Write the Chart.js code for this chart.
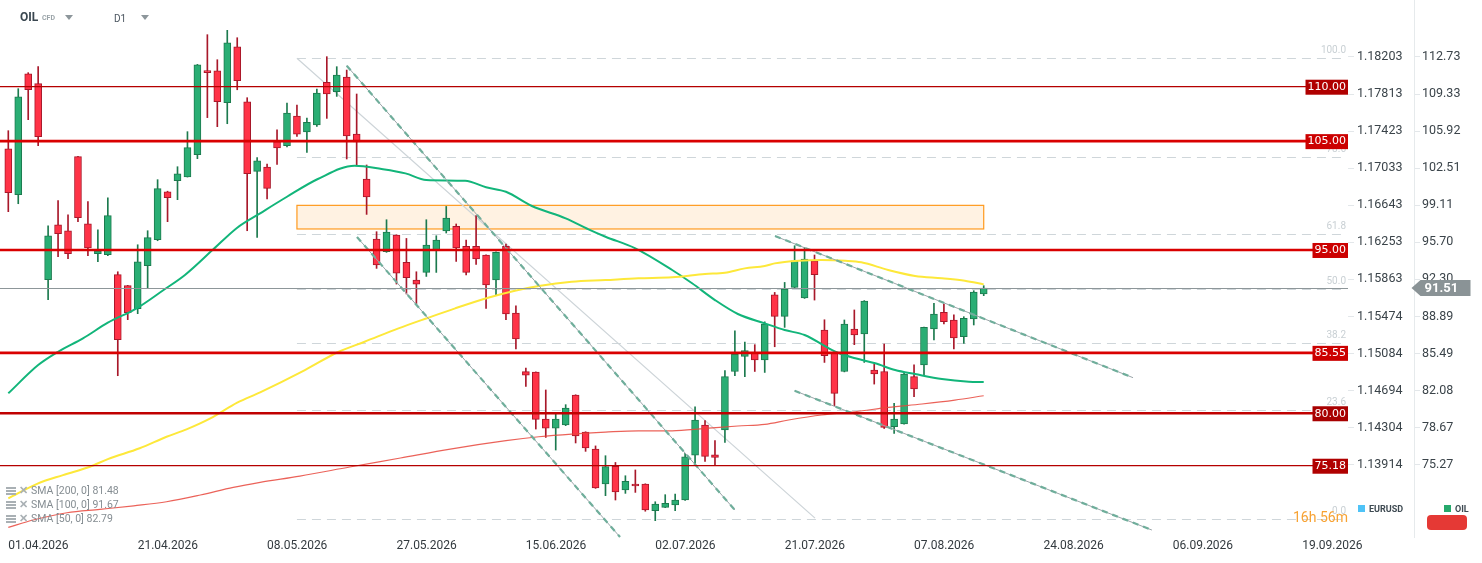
<!DOCTYPE html>
<html>
<head>
<meta charset="utf-8">
<title>OIL D1</title>
<script src="https://cdn.jsdelivr.net/npm/chart.js@4.4.1/dist/chart.umd.min.js"></script>
<style>
  body { margin: 0; background: #fff; font-family: Roboto, "Open Sans", sans-serif; }
  #wrap { position: relative; width: 1482px; height: 563px; }
  .abs { position: absolute; white-space: nowrap; }
  .tri { position: absolute; width: 0; height: 0; border-left: 4px solid transparent;
         border-right: 4px solid transparent; border-top: 5px solid #8d969b; }
  .sma { position: absolute; left: 6px; font-size: 10.5px; color: #858d92; }
  .sma i { display: inline-block; width: 10px; height: 8px; margin-right: 3px; vertical-align: -1px;
           background: repeating-linear-gradient(#a9b0b4 0 2px, #fff 2px 3px); }
  .sma b { font-weight: bold; color: #a9b0b4; margin-right: 3px; }
  .leg { position: absolute; font-size: 9px; font-weight: bold; color: #3e4a52; }
  .leg span { display: inline-block; width: 7px; height: 7px; margin-right: 4px; }
</style>
</head>
<body>
<div id="wrap">
  <canvas id="oilChart"></canvas>

  <div class="abs" style="left:20px;top:10px;font-size:12px;font-weight:bold;color:#3a4750;">OIL</div>
  <div class="abs" style="left:42px;top:14px;font-size:7px;font-weight:bold;color:#9aa3a8;">CFD</div>
  <div class="tri" style="left:65px;top:15px;"></div>
  <div class="abs" style="left:114px;top:13px;font-size:10px;color:#4b5660;">D1</div>
  <div class="tri" style="left:141px;top:15px;"></div>

  <div class="sma" style="top:484px;"><i></i><b>✕</b>SMA [200, 0] 81.48</div>
  <div class="sma" style="top:498px;"><i></i><b>✕</b>SMA [100, 0] 91.67</div>
  <div class="sma" style="top:512px;"><i></i><b>✕</b>SMA [50, 0] 82.79</div>

  <div class="abs" style="left:1293px;top:509px;font-size:14px;color:#f7a233;">16h 56m</div>
  <div class="leg" style="left:1358px;top:504px;"><span style="background:#4fc3f7"></span>EURUSD</div>
  <div class="leg" style="left:1444px;top:504px;"><span style="background:#26a96c"></span>OIL</div>
  <div class="abs" style="left:1427px;top:515px;width:40px;height:15px;background:#e53935;border-radius:4px;"></div>
</div>

<script>
// ---- data (one value per session, index 0 = 01.04.2026) ----
const opens  = [104.30,100.08,111.19,110.28,92.27,97.32,96.77,103.57,97.41,94.66,
                94.57,92.73,91.72,89.61,93.56,95.95,100.35,101.36,101.72,103.75,
                111.47,111.47,108.53,113.67,108.62,102.22,102.62,104.95,104.58,107.31,
                105.84,106.48,110.40,109.54,110.89,105.65,101.52,96.01,94.84,96.38,
                93.86,92.24,92.94,95.03,96.74,97.17,95.33,95.33,94.54,92.24,
                95.33,89.21,83.82,83.79,79.47,78.64,78.92,81.68,78.28,76.72,
                73.50,75.12,72.95,73.50,73.50,71.05,71.35,71.57,72.03,76.16,
                78.92,76.19,78.46,83.84,85.22,85.50,84.89,90.89,88.90,91.56,
                90.59,94.01,87.65,85.50,83.84,87.74,87.28,83.97,83.84,78.76,
                79.01,83.36,84.43,87.74,89.27,88.57,87.03,88.66,90.96];
const highs  = [105.96,109.82,111.29,111.84,97.23,99.53,98.24,103.60,99.44,96.86,
                99.80,93.00,91.75,95.48,96.77,101.46,100.40,102.65,105.87,112.05,
                114.78,112.48,115.33,114.50,108.99,103.48,102.90,106.05,108.50,108.32,
                107.12,109.79,112.76,111.84,111.53,109.33,102.81,96.68,97.78,96.40,
                96.06,93.00,97.78,96.31,99.00,97.39,95.92,98.15,94.56,94.84,
                95.55,89.88,84.16,83.80,82.14,79.93,80.79,81.70,78.30,77.00,
                76.10,75.48,74.26,74.79,73.52,71.87,72.52,72.58,76.31,80.60,
                79.32,77.48,83.91,87.58,86.55,86.30,88.40,91.10,92.02,95.39,
                95.24,94.54,88.59,85.52,88.57,89.49,90.35,84.52,86.36,80.91,
                83.75,84.46,87.92,90.09,90.04,89.05,88.87,91.26,91.72];
const lows   = [98.52,99.25,106.97,104.58,90.43,94.38,94.20,97.60,94.47,93.92,
                94.47,83.45,88.60,89.15,91.53,95.85,97.60,99.62,101.70,103.39,
                107.16,106.33,106.60,109.72,96.77,96.16,99.68,102.86,104.46,105.43,
                103.96,106.35,107.09,109.11,103.36,102.74,98.27,93.31,94.78,91.87,
                90.96,90.04,92.57,92.94,96.56,93.95,92.70,93.67,89.63,90.86,
                88.59,85.90,82.47,78.55,77.78,76.62,78.86,77.27,76.50,73.10,
                72.43,72.03,72.64,72.73,71.00,70.13,71.33,71.05,72.00,75.39,
                75.58,75.27,77.32,83.45,83.36,83.84,83.75,86.11,87.89,91.50,
                90.55,90.40,84.67,80.69,83.80,86.30,84.67,82.68,78.60,78.15,
                79.00,81.52,83.54,86.73,88.20,85.90,86.42,88.11,90.80];
const closes = [100.26,109.08,109.72,105.41,96.31,96.50,94.66,97.97,95.20,94.93,
                98.15,86.76,89.24,93.92,96.13,100.63,99.80,102.00,104.40,112.02,
                111.29,108.62,114.04,110.55,102.00,103.20,100.66,104.37,107.58,105.65,
                106.72,109.42,109.33,111.07,105.47,104.92,99.87,93.62,96.65,92.88,
                92.45,91.87,95.46,95.92,97.94,95.18,92.94,94.17,91.78,94.78,
                89.12,86.82,83.51,79.44,78.64,79.47,80.48,77.91,76.81,73.13,
                75.09,72.77,73.74,73.32,71.11,71.66,71.72,72.03,76.00,79.38,
                76.04,75.94,83.36,85.44,85.75,84.89,88.20,88.90,91.41,94.01,
                94.17,92.73,85.29,81.82,88.20,87.19,90.31,83.61,78.70,79.47,
                83.61,82.23,87.89,89.12,88.41,86.91,88.71,91.13,91.51];

// moving averages, read at session positions
const sma50Idx  = [0,3,5,7.5,10,12.9,15.6,17.75,20.6,23,25.3,28,31.1,34.8,37.5,39.9,42,45.9,48,50,
                   52.6,56,58.3,60,63,66.7,68.7,71,73.3,76,78,80,83.1,85.1,87.1,89.1,91.1,93.8,96.5,98];
const sma50Val  = [81.83,84.43,85.65,86.88,88.32,89.64,91.32,92.70,95.06,97.05,98.37,99.89,101.52,102.74,102.44,102.04,101.43,101.36,100.76,100.35,
                   99.04,97.91,96.90,96.22,95.15,93.16,91.94,90.40,89.12,88.26,87.65,87.19,85.65,85.05,84.59,83.97,83.60,83.14,82.90,82.87];
const sma100Idx = [0,3,5.5,8.2,10,13.2,15.9,17.9,20.3,23,25.3,29.8,33.2,35.8,39.2,42.2,44.9,48.2,50.9,
                   53.3,56.6,60,63.3,66.7,70,72,74,76,77,79.4,81.7,84.1,85.7,88.4,91.1,93.8,96.1,98];
const sma100Val = [72.18,73.56,74.32,75.09,75.79,76.78,77.84,78.52,79.53,80.97,81.92,83.97,85.65,86.57,87.80,88.78,89.64,90.61,91.26,
                   91.69,92.08,92.24,92.40,92.49,92.79,92.91,93.31,93.53,93.77,94.01,94.08,94.01,93.87,93.16,92.61,92.40,92.18,91.84];
const sma200Idx = [0,2.5,5.9,9.2,12.6,15.9,19.3,22.6,25.3,29.3,34.3,39.4,44.4,50,53.3,56.6,60,63.3,66.7,
                   70,73.3,76,78.4,81.7,85.1,88.4,91.8,95.1,98];
const sma200Val = [69.52,70.19,70.86,71.17,71.50,71.87,72.49,73.19,73.65,74.23,75.06,75.89,76.71,77.48,77.84,78.09,78.27,78.39,78.39,
                   78.61,78.83,78.98,79.38,79.84,80.14,80.54,80.85,81.21,81.61];

// axis labels
const dateTickIdx = [0,13,26,39,52,65,78,91,104,117,130];
const dateLabels  = ['01.04.2026','21.04.2026','08.05.2026','27.05.2026','15.06.2026','02.07.2026',
                     '21.07.2026','07.08.2026','24.08.2026','06.09.2026','19.09.2026'];
const priceTicks  = [112.73,109.33,105.92,102.51,99.11,95.70,92.30,88.89,85.49,82.08,78.67,75.27];
const fxLabels    = ['1.18203','1.17813','1.17423','1.17033','1.16643','1.16253',
                     '1.15863','1.15474','1.15084','1.14694','1.14304','1.13914'];

// drawn objects
const levelPrices = [110, 105, 95, 85.55, 80, 75.18];
const levelLabels = ['110.00','105.00','95.00','85.55','80.00','75.18'];
const fibRatios   = [100, 78.6, 61.8, 50, 38.2, 23.6, 0];
const fibRange    = [112.6, 70.3];      // swing high, swing low
const fibFrom     = 29;
const zoneIdx     = [29, 98];
const zonePrice   = [99.1, 96.93];
const channelLines = [[34.0,111.93,73.0,71.11],[35.03,96.19,61.46,68.63],
                      [77.03,96.28,113.0,83.27],[79.0,82.07,114.9,69.27]];
const fibTrendLine = [29.0,112.61,81.05,70.37];
const lastPrice   = 91.51;

// styles for the horizontal levels (same order as levelPrices)
const levelStyle = [
    {w: 1.2, c: '#b50000', box: '#b00000'},
    {w: 2.6, c: '#d90000', box: '#cc0000'},
    {w: 2.6, c: '#d90000', box: '#cc0000'},
    {w: 2.6, c: '#d90000', box: '#cc0000'},
    {w: 2.6, c: '#c00000', box: '#a80000'},
    {w: 1.2, c: '#b50000', box: '#b00000'}
];

const GREEN = '#2aae74', GREEN_DARK = '#1c7a4e';
const RED = '#ff3347', RED_DARK = '#a8182a';

// overlays drawn with the chart's own scales
const overlays = {
    id: 'overlays',
    beforeDatasetsDraw(chart) {
        const {ctx, chartArea: a, scales: {x, y}} = chart;
        ctx.save();

        // supply / resistance zone
        const zx1 = x.getPixelForValue(zoneIdx[0]), zx2 = x.getPixelForValue(zoneIdx[1]);
        const zy1 = y.getPixelForValue(zonePrice[0]), zy2 = y.getPixelForValue(zonePrice[1]);
        ctx.fillStyle = '#fff2e2';
        ctx.fillRect(zx1, zy1, zx2 - zx1, zy2 - zy1);
        ctx.strokeStyle = '#ff9a1f';
        ctx.lineWidth = 1.2;
        ctx.strokeRect(zx1, zy1, zx2 - zx1, zy2 - zy1);

        // fibonacci levels
        ctx.font = '10px Roboto';
        ctx.textAlign = 'right';
        ctx.textBaseline = 'bottom';
        fibRatios.forEach(r => {
            const p = fibRange[1] + (fibRange[0] - fibRange[1]) * r / 100;
            const py = Math.round(y.getPixelForValue(p)) + 0.5;
            ctx.strokeStyle = '#cfd6da';
            ctx.lineWidth = 1;
            ctx.setLineDash([9, 6]);
            ctx.beginPath();
            ctx.moveTo(x.getPixelForValue(fibFrom), py);
            ctx.lineTo(a.right - 2, py);
            ctx.stroke();
            ctx.setLineDash([]);
            ctx.fillStyle = '#c9d0d4';
            ctx.fillText(r.toFixed(1), a.right - 2, py - 3);
        });

        // fib trend line
        ctx.strokeStyle = '#cdd4d8';
        ctx.lineWidth = 1.2;
        ctx.beginPath();
        ctx.moveTo(x.getPixelForValue(fibTrendLine[0]), y.getPixelForValue(fibTrendLine[1]));
        ctx.lineTo(x.getPixelForValue(fibTrendLine[2]), y.getPixelForValue(fibTrendLine[3]));
        ctx.stroke();
        ctx.restore();
    },
    afterDatasetsDraw(chart) {
        const {ctx, chartArea: a, scales: {x, y}} = chart;
        ctx.save();

        // descending channels
        channelLines.forEach(l => {
            const x1 = x.getPixelForValue(l[0]), y1 = y.getPixelForValue(l[1]);
            const x2 = x.getPixelForValue(l[2]), y2 = y.getPixelForValue(l[3]);
            ctx.strokeStyle = '#9aa4a8';
            ctx.lineWidth = 1;
            ctx.beginPath(); ctx.moveTo(x1, y1); ctx.lineTo(x2, y2); ctx.stroke();
            ctx.strokeStyle = '#6fae9b';
            ctx.lineWidth = 2.2;
            ctx.setLineDash([6, 5]);
            ctx.beginPath(); ctx.moveTo(x1, y1); ctx.lineTo(x2, y2); ctx.stroke();
            ctx.setLineDash([]);
        });

        // last price line
        const ly = Math.round(y.getPixelForValue(lastPrice)) + 0.5;
        ctx.strokeStyle = '#8d9699';
        ctx.lineWidth = 1;
        ctx.beginPath(); ctx.moveTo(a.left, ly); ctx.lineTo(a.right, ly); ctx.stroke();

        // horizontal levels with their labels
        ctx.font = '11px "DejaVu Sans", Roboto';
        ctx.textAlign = 'right';
        ctx.textBaseline = 'middle';
        levelPrices.forEach((p, i) => {
            const st = levelStyle[i];
            const py = y.getPixelForValue(p);
            ctx.strokeStyle = st.c;
            ctx.lineWidth = st.w;
            ctx.beginPath(); ctx.moveTo(a.left, py); ctx.lineTo(a.right, py); ctx.stroke();
            const tw = ctx.measureText(levelLabels[i]).width + 4;
            ctx.fillStyle = st.box;
            ctx.fillRect(a.right - tw, py - 7, tw, 15);
            ctx.fillStyle = '#fff';
            ctx.fillText(levelLabels[i], a.right - 2, py + 0.5);
        });
        ctx.restore();
    },
    afterDraw(chart) {
        const {ctx, chartArea: a, scales: {y}} = chart;
        ctx.save();
        // separator between the two price axes
        const sx = Math.round(chart.scales.y.left) + 0.5;
        ctx.strokeStyle = '#e6eaec';
        ctx.lineWidth = 1;
        ctx.beginPath(); ctx.moveTo(sx, 0); ctx.lineTo(sx, a.bottom); ctx.stroke();

        // last price tag
        const ty = y.getPixelForValue(lastPrice);
        ctx.fillStyle = '#8a9396';
        ctx.beginPath();
        ctx.moveTo(sx - 3, ty);
        ctx.lineTo(sx + 6, ty - 8);
        ctx.lineTo(sx + 56, ty - 8);
        ctx.lineTo(sx + 56, ty + 8);
        ctx.lineTo(sx + 6, ty + 8);
        ctx.closePath();
        ctx.fill();
        ctx.fillStyle = '#fff';
        ctx.font = 'bold 13px Roboto';
        ctx.textAlign = 'left';
        ctx.textBaseline = 'middle';
        ctx.fillText(lastPrice.toFixed(2), sx + 10, ty + 1);
        ctx.restore();
    }
};

function buildCandles() {
    const wicks = opens.map((o, i) => ({x: i, y: [lows[i], highs[i]]}));
    const bodies = opens.map((o, i) => ({x: i, y: [o, closes[i]]}));
    const up = opens.map((o, i) => closes[i] >= o);
    return [
        {
            type: 'bar', data: wicks, grouped: false, order: 3,
            barThickness: 1, backgroundColor: up.map(u => u ? GREEN_DARK : RED_DARK)
        },
        {
            type: 'bar', data: bodies, grouped: false, order: 2,
            barThickness: 7, minBarLength: 2, borderWidth: 1, borderSkipped: false,
            backgroundColor: up.map(u => u ? GREEN : RED),
            borderColor: up.map(u => u ? GREEN_DARK : RED_DARK)
        }
    ];
}

function smaLine(idx, vals, color, width) {
    return {
        type: 'line', order: 1,
        data: idx.map((v, i) => ({x: v, y: vals[i]})),
        borderColor: color, borderWidth: width, pointRadius: 0,
        cubicInterpolationMode: 'monotone', fill: false
    };
}

function createOilChart() {
    const ctx = document.getElementById('oilChart').getContext('2d');
    new Chart(ctx, {
        type: 'bar',
        data: {
            datasets: [
                ...buildCandles(),
                smaLine(sma200Idx, sma200Val, 'rgba(232,70,60,0.85)', 1.2),
                smaLine(sma100Idx, sma100Val, '#fde83a', 2),
                smaLine(sma50Idx, sma50Val, '#12b57a', 2)
            ]
        },
        options: {
            responsive: true,
            maintainAspectRatio: false,
            animation: false,
            layout: { padding: { top: 30, left: 0, right: 0, bottom: 0 } },
            plugins: { legend: { display: false }, tooltip: { enabled: false } },
            scales: {
                x: {
                    type: 'linear', offset: false, min: -0.834, max: 134.6,
                    grid: { display: false, drawTicks: false }, border: { display: false },
                    afterBuildTicks: s => { s.ticks = dateTickIdx.map(v => ({value: v})); },
                    afterFit: s => { s.height = 25; },
                    ticks: {
                        autoSkip: false, maxRotation: 0, align: 'start', padding: 1,
                        color: '#333a3f', font: { family: 'Roboto', size: 12 },
                        callback: v => dateLabels[dateTickIdx.indexOf(v)]
                    }
                },
                yFx: {
                    position: 'right', weight: 0, min: 68.54, max: 115.21,
                    grid: { drawOnChartArea: false, tickLength: 6, color: '#e3e7ea' },
                    border: { display: false },
                    afterBuildTicks: s => { s.ticks = priceTicks.map(v => ({value: v})); },
                    afterFit: s => { s.width = 66; },
                    ticks: {
                        padding: 3, color: '#3b444a', font: { family: 'Roboto', size: 12.5 },
                        callback: (v, i) => fxLabels[i]
                    }
                },
                y: {
                    position: 'right', weight: 1, min: 68.54, max: 115.21,
                    grid: { drawOnChartArea: false, tickLength: 6, color: '#e3e7ea' },
                    border: { display: false },
                    afterBuildTicks: s => { s.ticks = priceTicks.map(v => ({value: v})); },
                    afterFit: s => { s.width = 68; },
                    ticks: {
                        padding: 2, color: '#3b444a', font: { family: 'Roboto', size: 12.5 },
                        callback: v => v.toFixed(2)
                    }
                }
            }
        },
        plugins: [overlays]
    });
}

document.getElementById('oilChart').parentNode.style.height = '563px';
createOilChart();
</script>
</body>
</html>
